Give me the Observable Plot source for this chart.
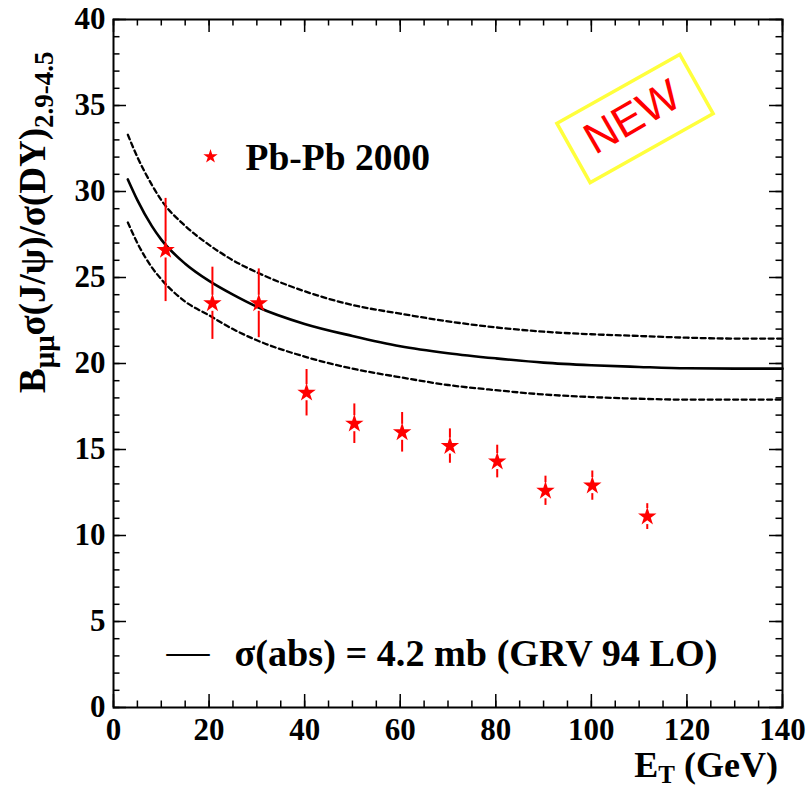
<!DOCTYPE html>
<html>
<head>
<meta charset="utf-8">
<script src="https://cdn.jsdelivr.net/npm/d3@7"></script>
<script src="https://cdn.jsdelivr.net/npm/@observablehq/plot@0.6"></script>
<style>
  html, body { margin: 0; padding: 0; background: white; }
</style>
</head>
<body>
<div id="chart"></div>
<script>
// Data points (Pb-Pb 2000)
const ptE   = [10.9, 20.7, 30.4, 40.4, 50.4, 60.4, 70.4, 80.3, 90.4, 100.2, 111.7];
const ptY   = [26.6, 23.5, 23.5, 18.3, 16.5, 16.0, 15.2, 14.3, 12.6, 12.9, 11.1];
const ptErr = [3.0, 2.1, 2.0, 1.35, 1.15, 1.15, 1.0, 0.95, 0.85, 0.85, 0.75];

// Theory curves: sigma(abs) = 4.2 mb (GRV 94 LO) and its band
const curveE   = [3, 5, 8, 10, 15, 20, 25, 30, 40, 50, 60, 70, 80, 90, 100, 110, 120, 130, 140];
const curveMid = [30.7, 29.5, 28.0, 27.2, 25.8, 24.8, 24.0, 23.3, 22.3, 21.6, 21.0, 20.6, 20.3, 20.05, 19.9, 19.8, 19.72, 19.7, 19.7];
const curveUp  = [33.3, 32.0, 30.4, 29.5, 28.0, 26.9, 26.0, 25.3, 24.2, 23.4, 22.9, 22.45, 22.1, 21.85, 21.7, 21.6, 21.5, 21.45, 21.45];
const curveLo  = [28.2, 27.0, 25.6, 24.9, 23.6, 22.8, 22.0, 21.35, 20.4, 19.7, 19.2, 18.75, 18.45, 18.2, 18.05, 17.95, 17.9, 17.9, 17.9];

// Axis ticks
const xMajor = [0, 20, 40, 60, 80, 100, 120, 140];
const xMinor = d3.range(0, 141, 5);
const yMajor = [0, 5, 10, 15, 20, 25, 30, 35, 40];
const yMinor = d3.range(0, 41, 1);

const legendData = "Pb-Pb 2000";
const legendModel = "\u03c3(abs) = 4.2 mb (GRV 94 LO)";

const points = ptE.map((e, i) => ({E: e, y: ptY[i], err: ptErr[i]}));
const curves = curveE.map((e, i) => ({E: e, mid: curveMid[i], up: curveUp[i], lo: curveLo[i]}));

const W = 808, H = 789;
const mL = 113, mR = 26, mT = 19, mB = 82;
const fw = W - mL - mR, fh = H - mT - mB;
const majLen = 13, minLen = 6.5;
const serif = "Liberation Serif, Times New Roman, serif";

const chart = Plot.plot({
  width: W, height: H,
  marginLeft: mL, marginRight: mR, marginTop: mT, marginBottom: mB,
  x: {domain: [0, 140]},
  y: {domain: [0, 40]},
  style: {background: "white", fontFamily: serif, color: "black"},
  marks: [
    // ticks inside the frame
    Plot.tickY(yMinor, {y: d => d, insetRight: fw - minLen, stroke: "black", strokeWidth: 1.5}),
    Plot.tickY(yMajor, {y: d => d, insetRight: fw - majLen, stroke: "black", strokeWidth: 1.5}),
    Plot.tickY(yMinor, {y: d => d, insetLeft: fw - minLen, stroke: "black", strokeWidth: 1.5}),
    Plot.tickY(yMajor, {y: d => d, insetLeft: fw - majLen, stroke: "black", strokeWidth: 1.5}),
    Plot.tickX(xMinor, {x: d => d, insetTop: fh - minLen, stroke: "black", strokeWidth: 1.5}),
    Plot.tickX(xMajor, {x: d => d, insetTop: fh - majLen, stroke: "black", strokeWidth: 1.5}),
    Plot.tickX(xMinor, {x: d => d, insetBottom: fh - minLen, stroke: "black", strokeWidth: 1.5}),
    Plot.tickX(xMajor, {x: d => d, insetBottom: fh - majLen, stroke: "black", strokeWidth: 1.5}),
    // tick labels
    Plot.axisY({ticks: yMajor, tickSize: 0, tickPadding: 8, label: null, fontSize: 31, fontWeight: "bold", fontFamily: serif}),
    Plot.axisX({ticks: xMajor, tickSize: 0, tickPadding: 10, label: null, fontSize: 31, fontWeight: "bold", fontFamily: serif}),
    // theory curves
    Plot.line(curves, {x: "E", y: "up", stroke: "black", strokeWidth: 2.3, strokeDasharray: "5,3.5", curve: "monotone-x"}),
    Plot.line(curves, {x: "E", y: "lo", stroke: "black", strokeWidth: 2.3, strokeDasharray: "5,3.5", curve: "monotone-x"}),
    Plot.line(curves, {x: "E", y: "mid", stroke: "black", strokeWidth: 2.6, curve: "monotone-x"}),
    // error bars (split around the marker)
    Plot.ruleX(points, {x: "E", y1: d => d.y + d.err, y2: "y", insetBottom: 8, stroke: "red", strokeWidth: 2}),
    Plot.ruleX(points, {x: "E", y1: "y", y2: d => d.y - d.err, insetTop: 8, stroke: "red", strokeWidth: 2}),
    Plot.dot(points, {x: "E", y: "y", symbol: "star", r: 5.8, fill: "red", stroke: "none"}),
    // legend
    Plot.dot([legendData], {frameAnchor: "top-left", dx: 210 - mL, dy: 156 - mT, symbol: "star", r: 4.5, fill: "red", stroke: "none"}),
    Plot.text([legendData], {text: d => d, frameAnchor: "top-left", dx: 245 - mL, dy: 157 - mT, textAnchor: "start", lineAnchor: "middle", fontSize: 37.5, fontWeight: "bold", fontFamily: serif, fill: "black"}),
    Plot.text(["\u2014"], {text: d => d, frameAnchor: "top-left", dx: 166 - mL, dy: 651 - mT, textAnchor: "start", lineAnchor: "middle", fontSize: 43, fontFamily: serif, fill: "black"}),
    Plot.text([legendModel], {text: d => d, frameAnchor: "top-left", dx: 234 - mL, dy: 653 - mT, textAnchor: "start", lineAnchor: "middle", fontSize: 38.2, fontWeight: "bold", fontFamily: serif, fill: "black"}),
    // NEW stamp
    Plot.text(["NEW"], {text: d => d, frameAnchor: "top-left", dx: 632 - mL, dy: 117 - mT, rotate: -30, textAnchor: "middle", lineAnchor: "middle", fontSize: 44, fontFamily: "Liberation Sans, Arial, sans-serif", fill: "red"}),
    Plot.frame({stroke: "black", strokeWidth: 2})
  ]
});

const svg = d3.select(chart);
// yellow box around NEW
svg.append("rect")
  .attr("x", -70.5).attr("y", -34).attr("width", 141).attr("height", 68)
  .attr("transform", "translate(635,118.5) rotate(-29.3)")
  .attr("fill", "none").attr("stroke", "#ffff3c").attr("stroke-width", 3.5);

// Y axis title with subscripts
const yt = svg.append("text")
  .attr("transform", "translate(45,393) rotate(-90)")
  .attr("text-anchor", "start")
  .attr("font-family", serif).attr("font-weight", "bold").attr("font-size", 37).attr("fill", "black");
yt.append("tspan").text("B");
yt.append("tspan").attr("dy", 9).attr("font-size", 29).text("\u03bc\u03bc");
yt.append("tspan").attr("dy", -9).text("\u03c3(J/\u03c8)/\u03c3(DY)");
yt.append("tspan").attr("dy", 8).attr("font-size", 27).text("2.9-4.5");

// X axis title with subscript
const xt = svg.append("text")
  .attr("x", 778).attr("y", 777)
  .attr("text-anchor", "end")
  .attr("font-family", serif).attr("font-weight", "bold").attr("font-size", 36).attr("fill", "black");
xt.append("tspan").text("E");
xt.append("tspan").attr("dy", 6).attr("font-size", 25).text("T");
xt.append("tspan").attr("dy", -6).text(" (GeV)");

document.getElementById("chart").appendChild(chart);
</script>
</body>
</html>
